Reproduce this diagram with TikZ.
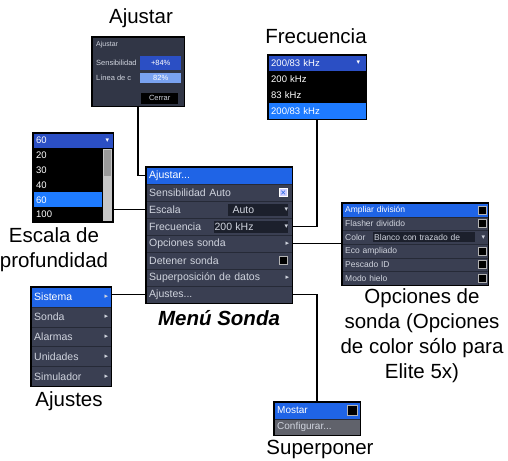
\documentclass[tikz,border=0pt]{standalone}
\usepackage{fontspec}
\setmainfont{Liberation Sans}
\newfontfamily\symf{DejaVu Sans}
\usetikzlibrary{calc}
\definecolor{scrbg}{HTML}{3A3F52}
\definecolor{rowsep}{HTML}{262A37}
\definecolor{hlblue}{HTML}{1F64E6}
\definecolor{brblue}{HTML}{1E7BFF}
\definecolor{hdblue}{HTML}{2B4FC4}
\definecolor{txtgray}{HTML}{D0D4DE}
\definecolor{fielddk}{HTML}{1C202C}
\begin{document}
\begin{tikzpicture}[x=1pt,y=-1pt,
  lbl/.style={font=\fontsize{20.5}{25}\selectfont, align=center, inner sep=0pt},
  panel/.style={anchor=north west, fill=scrbg, inner sep=0pt},
  frame/.style={draw=black, line width=1.3pt},
  srow/.style={anchor=north west, inner ysep=0pt, inner xsep=3pt, align=left, text=txtgray, fill=scrbg, draw=rowsep, line width=0.4pt},
  conn/.style={draw=black, line width=1.5pt},
  chk/.style={fill=black, draw=gray!60, line width=0.5pt, minimum size=8pt, inner sep=0pt},
  fld/.style={fill=fielddk, text=txtgray, inner sep=1pt, anchor=west, align=left},
  sym/.style={text=txtgray, inner sep=0pt, font=\symf\fontsize{7}{7}\selectfont}
]
\useasboundingbox[fill=white] (0,0) rectangle (508,460);

% ---------------- Main menu ----------------
\tikzset{mrow/.style={srow, text width=140pt, minimum height=17pt, font=\fontsize{10.5}{11}\selectfont}}
\node[panel, minimum width=146pt, minimum height=136pt] (main) at (146,167) {};
\node[mrow, fill=hlblue, text=white] (m1) at (146,167) {Ajustar...};
\node[mrow] (m2) at (146,184) {Sensibilidad Auto};
\node[mrow] (m3) at (146,201) {Escala};
\node[mrow] (m4) at (146,218) {Frecuencia};
\node[mrow] (m5) at (146,235) {Opciones sonda};
\node[mrow] (m6) at (146,252) {Detener sonda};
\node[mrow] (m7) at (146,269) {Superposición de datos};
\node[mrow] (m8) at (146,286) {Ajustes...};
\node[chk, fill=blue!20, draw=white] (m2c) at ($(m2.east)+(-9,0)$) {\symf\fontsize{7}{7}\selectfont\color{hlblue}✕};
\node[fld, text width=58pt, minimum height=12pt] (m3f) at ($(m3.east)+(-65,0)$) {\fontsize{10.5}{11}\selectfont\hspace{4pt}Auto};
\node[sym] at ($(m3.east)+(-6,0)$) {▾};
\node[fld, text width=72pt, minimum height=12pt] (m4f) at ($(m4.east)+(-79,0)$) {\fontsize{10.5}{11}\selectfont 200 kHz};
\node[sym] at ($(m4.east)+(-6,0)$) {▾};
\node[sym] at ($(m5.east)+(-5,0)$) {▸};
\node[chk] (m6c) at ($(m6.east)+(-9,0)$) {};
\node[sym] at ($(m7.east)+(-5,0)$) {▸};
\draw[frame] (main.north west) rectangle (main.south east);
\node[lbl, font=\bfseries\itshape\fontsize{20.5}{25}\selectfont] (mlbl) at (219,318) {Menú Sonda};

% ---------------- Ajustar ----------------
\node[lbl] (ajlbl) at (141,18) {Ajustar};
\node[panel, fill=scrbg!85!black, minimum width=92pt, minimum height=69pt] (aj) at (92,37) {};
\node[text=txtgray, anchor=west, inner sep=0pt, font=\fontsize{7}{7}\selectfont] (aj1) at (96,45) {Ajustar};
\node[text=txtgray, anchor=west, inner sep=0pt, font=\fontsize{7.5}{8}\selectfont] (aj2) at (96,63) {Sensibilidad};
\node[fill=hdblue, text=white, anchor=west, minimum width=41pt, minimum height=13pt, inner sep=0pt, font=\fontsize{7.5}{8}\selectfont] (aj2f) at (140,63) {+84\%};
\node[text=txtgray, anchor=west, inner sep=0pt, font=\fontsize{7.5}{8}\selectfont] (aj3) at (96,78) {Línea de c};
\node[fill=hlblue!60!white, text=white, anchor=west, minimum width=41pt, minimum height=10pt, inner sep=0pt, font=\fontsize{7.5}{8}\selectfont] (aj3f) at (140,78) {82\%};
\node[fill=black, text=txtgray, anchor=west, minimum width=37pt, minimum height=11pt, inner sep=0pt, font=\fontsize{7.5}{8}\selectfont] (ajb) at (141,98) {Cerrar};
\draw[frame] (aj.north west) rectangle (aj.south east);

% ---------------- Frecuencia ----------------
\node[lbl] (frlbl) at (316,36) {Frecuencia};
\tikzset{frow/.style={srow, text width=92pt, minimum height=16pt, draw=none, text=white, font=\fontsize{9.5}{10}\selectfont}}
\node[panel, fill=black, minimum width=98pt, minimum height=64pt] (fr) at (268,55) {};
\node[frow, fill=hdblue] (f1) at (268,55) {200/83 kHz};
\node[sym, text=white] at ($(f1.east)+(-8,0)$) {▾};
\node[frow, fill=black] (f2) at (268,71) {200 kHz};
\node[frow, fill=black] (f3) at (268,87) {83 kHz};
\node[frow, fill=brblue] (f4) at (268,103) {200/83 kHz};
\draw[frame] (fr.north west) rectangle (fr.south east);

% ---------------- Escala ----------------
\tikzset{erow/.style={srow, text width=63pt, minimum height=14.8pt, draw=none, fill=black, text=white, font=\fontsize{9.5}{10}\selectfont}}
\node[panel, fill=black, minimum width=80pt, minimum height=89pt] (es) at (33,133) {};
\node[erow, text width=74pt, fill=hdblue] (e0) at (33,133) {60};
\node[sym, text=white] at ($(e0.east)+(-6,0)$) {▾};
\node[erow] (e1) at (33,147.8) {20};
\node[erow] (e2) at (33,162.6) {30};
\node[erow] (e3) at (33,177.4) {40};
\node[erow, fill=brblue] (e4) at (33,192.2) {60};
\node[erow] (e5) at (33,207) {100};
\fill[gray!45] (103,149) rectangle (111.5,221);
\fill[gray!80] (103.5,150) rectangle (111,176);
\draw[frame] (es.north west) rectangle (es.south east);
\node[lbl] (eslbl) at (54,249.5) {Escala de\\[0.5pt]profundidad};

% ---------------- Opciones de sonda ----------------
\tikzset{orow/.style={srow, text width=140pt, minimum height=13.67pt, font=\fontsize{8.5}{9}\selectfont}}
\node[panel, minimum width=146pt, minimum height=82pt] (op) at (342,203) {};
\node[orow, fill=hlblue, text=white] (o1) at (342,203) {Ampliar división};
\node[orow] (o2) at (342,216.67) {Flasher dividido};
\node[orow] (o3) at (342,230.33) {Color};
\node[orow] (o4) at (342,244) {Eco ampliado};
\node[orow] (o5) at (342,257.67) {Pescado ID};
\node[orow] (o6) at (342,271.33) {Modo hielo};
\node[chk] at ($(o1.east)+(-6,0)$) {};
\node[chk] at ($(o2.east)+(-6,0)$) {};
\node[fld, text width=100pt, minimum height=10pt, font=\fontsize{8.5}{9}\selectfont] (o3f) at (373,237.17) {Blanco con trazado de};
\node[sym] at ($(o3.east)+(-5,0)$) {▾};
\node[chk] at ($(o4.east)+(-6,0)$) {};
\node[chk] at ($(o5.east)+(-6,0)$) {};
\node[chk] at ($(o6.east)+(-6,0)$) {};
\draw[frame] (op.north west) rectangle (op.south east);
\node[lbl] (oplbl) at (422,336) {Opciones de\\sonda (Opciones\\de color sólo para\\Elite 5x)};

% ---------------- Ajustes ----------------
\tikzset{arow/.style={srow, text width=74pt, minimum height=19.8pt, font=\fontsize{10.5}{11}\selectfont}}
\node[panel, minimum width=80pt, minimum height=99pt] (as) at (31,287) {};
\node[arow, fill=hlblue, text=white] (a1) at (31,287) {Sistema};
\node[arow] (a2) at (31,306.8) {Sonda};
\node[arow] (a3) at (31,326.6) {Alarmas};
\node[arow] (a4) at (31,346.4) {Unidades};
\node[arow] (a5) at (31,366.2) {Simulador};
\foreach \r in {a1,a2,a3,a4,a5} \node[sym] at ($(\r.east)+(-5,0)$) {▸};
\draw[frame] (as.north west) rectangle (as.south east);
\node[lbl] (aslbl) at (69,401) {Ajustes};

% ---------------- Superponer ----------------
\tikzset{prow/.style={srow, text width=80pt, minimum height=16.5pt, font=\fontsize{10}{10}\selectfont}}
\node[panel, minimum width=86pt, minimum height=33pt] (sp) at (274,402) {};
\node[prow, fill=hlblue, text=white] (p1) at (274,402) {Mostar};
\node[prow, fill=gray!55!scrbg] (p2) at (274,418.5) {Configurar...};
\node[chk, minimum size=10pt] at ($(p1.east)+(-8,0)$) {};
\draw[frame] (sp.north west) rectangle (sp.south east);
\node[lbl] (splbl) at (320,449) {Superponer};

% ---------------- Connectors ----------------
\draw[conn] (aj.south) |- (m1.west);
\draw[conn] (es.east |- m3.west) -- (m3.west);
\draw[conn] (fr.south) |- (m4.east);
\draw[conn] (m5.east) -- (m5.east -| op.west);
\draw[conn] (m8.east) -| (sp.north);
\draw[conn] (as.east |- m8.west) -- (m8.west);
\end{tikzpicture}
\end{document}
